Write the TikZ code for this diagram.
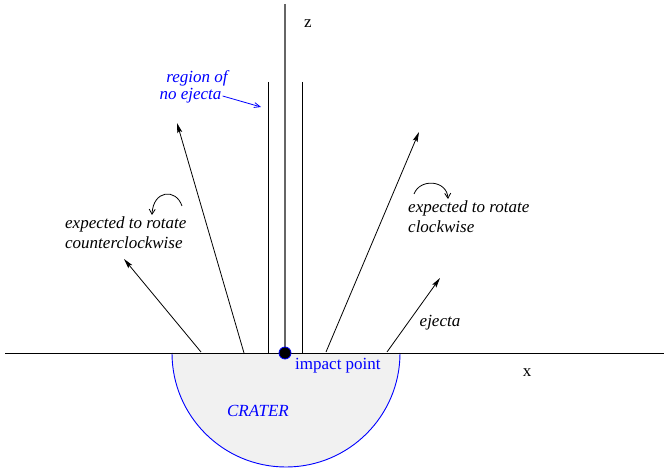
\documentclass[tikz,border=0pt]{standalone}
\usepackage{fontspec}
\setmainfont{Liberation Serif}
\usetikzlibrary{arrows.meta}
\definecolor{cratergray}{gray}{0.945}
\definecolor{axisgray}{gray}{0.4}
\begin{document}
\begin{tikzpicture}[x=1pt,y=-1pt,
  font=\fontsize{17}{20}\selectfont,
  thinline/.style={line width=0.8pt, black},
  ejarrow/.style={thinline, -{Stealth[length=10pt,width=5pt,inset=2pt]}},
  rotarrow/.style={thinline, -{Straight Barb[length=5pt,width=6pt]}},
  bluetext/.style={text=blue, inner sep=1pt},
  itext/.style={font=\fontsize{17}{20}\selectfont\itshape, inner sep=1pt}]
\useasboundingbox (0,0) rectangle (664,470);
% crater
\coordinate (cl) at (172,353);
\coordinate (cr) at (400,353);
\fill[cratergray] (cl) arc[start angle=180, end angle=0, radius=114] -- cycle;
\draw[blue, line width=0.9pt] (cl) arc[start angle=180, end angle=0, radius=114];
% axes
\coordinate (xl) at (5,353);
\coordinate (xr) at (664,353);
\draw[thinline] (xl) -- (xr);
\coordinate (zt) at (285,4);
\coordinate (O) at (285,353);
\draw[axisgray, line width=1.6pt] (zt) -- (O);
\node (zlab) at (308,24) {z};
\node (xlab) at (527,373) {x};
% parallel lines
\coordinate (pla) at (268,82);
\coordinate (plb) at (268,353);
\coordinate (pra) at (302,82);
\coordinate (prb) at (302,353);
\draw[thinline] (pla) -- (plb);
\draw[thinline] (pra) -- (prb);
% ejecta arrows
\coordinate (a1s) at (244,353); \coordinate (a1e) at (177,123);
\coordinate (a2s) at (201,352); \coordinate (a2e) at (124,259);
\coordinate (a3s) at (326,352); \coordinate (a3e) at (419,132);
\coordinate (a4s) at (387,352); \coordinate (a4e) at (440,278);
\draw[ejarrow] (a1s) -- (a1e);
\draw[ejarrow] (a2s) -- (a2e);
\draw[ejarrow] (a3s) -- (a3e);
\draw[ejarrow] (a4s) -- (a4e);
% rotation arrows
\coordinate (r1s) at (182,206); \coordinate (r1e) at (152,215);
\draw[rotarrow] (r1s) .. controls (176,188) and (153,190) .. (r1e);
\coordinate (r2s) at (414,194); \coordinate (r2e) at (448,199);
\draw[rotarrow] (r2s) .. controls (420,178) and (447,180) .. (r2e);
% texts
\node[itext, anchor=west, align=left] (ccw) at (64,233) {expected to rotate\\counterclockwise};
\node[itext, anchor=west, align=left] (cw) at (407,217) {expected to rotate\\clockwise};
\node[itext] (ej) at (440,323) {ejecta};
\node[itext, text=blue] (reg) at (197,78) {region of};
\node[itext, text=blue] (noej) at (190.5,96) {no ejecta};
\coordinate (noejtip) at (261,107);
\draw[blue, line width=0.8pt, -{Straight Barb[length=6pt,width=5pt]}] (noej.east) -- (noejtip);
% crater label and impact point
\node[itext, text=blue] (crater) at (258,411) {CRATER};
\node[bluetext, anchor=west] (iplab) at (294,366) {impact point};
\node[circle, fill=black, draw=blue, line width=0.8pt, inner sep=0pt, minimum size=12pt] (ip) at (O) {};
\end{tikzpicture}
\end{document}
